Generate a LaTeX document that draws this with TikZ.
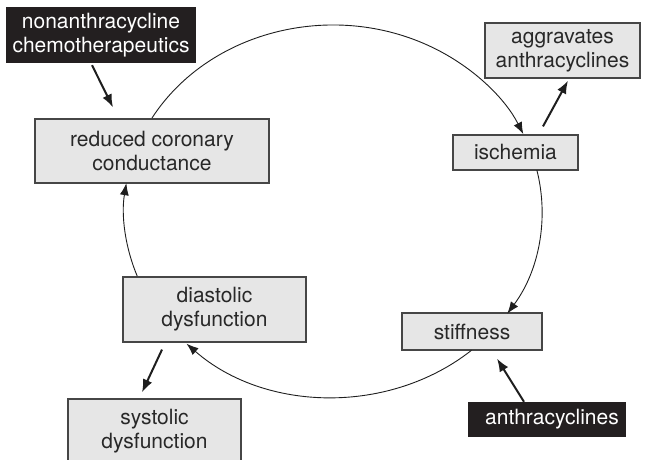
\documentclass[tikz,border=0pt]{standalone}
\usepackage{fontspec}
\setmainfont{TeX Gyre Heros}
\usepackage{tikz}
\usetikzlibrary{arrows.meta,positioning}
\definecolor{boxgray}{RGB}{230,230,230}
\definecolor{boxline}{RGB}{70,70,70}
\definecolor{darkbox}{RGB}{35,31,32}
\definecolor{txtgray}{RGB}{40,40,40}
\definecolor{linegray}{RGB}{30,30,30}

\begin{document}
\begin{tikzpicture}[x=1pt, y=1pt,
  every node/.style={font=\fontsize{21}{24}\selectfont, align=center, inner sep=0pt},
  effect/.style={draw=boxline, line width=1.2pt, fill=boxgray, text=txtgray},
  drug/.style={fill=darkbox, text=white},
  loopline/.style={draw=linegray, line width=0.9pt, -{Latex[length=12pt,width=9pt]}},
  hit/.style={draw=linegray, line width=2pt, -{Latex[length=13pt,width=10pt]}}]
        \useasboundingbox (0,0) rectangle (649,459);
        \node[drug, minimum width=190pt, minimum height=56pt] (nonanth) at (101,424) {nonanthracycline\\chemotherapeutics};
        \node[effect, minimum width=234pt, minimum height=64pt] (coronary) at (152,308) {reduced coronary\\conductance};
        \node[effect, minimum width=155pt, minimum height=55pt] (aggr) at (562.5,408.5) {aggravates\\anthracyclines};
        \node[effect, minimum width=125pt, minimum height=35pt] (ischemia) at (515.5,306.5) {ischemia};
        \node[effect, minimum width=140pt, minimum height=37pt] (stiff) at (472,127.5) {stiffness};
        \node[drug, minimum width=158pt, minimum height=35pt] (anthra) at (547,39.5) {\hspace*{10pt}anthracyclines};
        \node[effect, minimum width=183pt, minimum height=65pt] (diast) at (214.5,149.5) {diastolic\\dysfunction};
        \node[effect, minimum width=173pt, minimum height=65pt] (syst) at (154.5,27.5) {systolic\\dysfunction};

        \coordinate (ctr) at (333,248);
        \path (ctr) ++(150:209pt and 186pt) coordinate (s1);
        \path (ctr) ++(12.7:209pt and 186pt) coordinate (s2);
        \path (ctr) ++(-48.5:209pt and 186pt) coordinate (s3);
        \path (ctr) ++(-159.5:209pt and 186pt) coordinate (s4);

        \draw[loopline] (s1) arc[start angle=150, end angle=24.4, x radius=209pt, y radius=186pt];
        \draw[loopline] (s2) arc[start angle=12.7, end angle=-33.5, x radius=209pt, y radius=186pt];
        \draw[loopline] (s3) arc[start angle=-48.5, end angle=-134.5, x radius=209pt, y radius=186pt];
        \draw[loopline] (s4) arc[start angle=-159.5, end angle=-188.6, x radius=209pt, y radius=186pt];

        \draw[hit] ([xshift=-9pt,yshift=-2pt]nonanth.south) -- ([xshift=-39pt,yshift=11pt]coronary.north);
        \draw[hit] ([xshift=27.5pt,yshift=8pt]ischemia.north) -- ([xshift=5.5pt,yshift=-2pt]aggr.south);
        \draw[hit] ([xshift=-52.5pt,yshift=-7pt]diast.south) -- ([xshift=-12.5pt,yshift=6pt]syst.north);
        \draw[hit] ([xshift=-23pt]anthra.north) -- ([xshift=25pt,yshift=-8pt]stiff.south);
\end{tikzpicture}
\end{document}
